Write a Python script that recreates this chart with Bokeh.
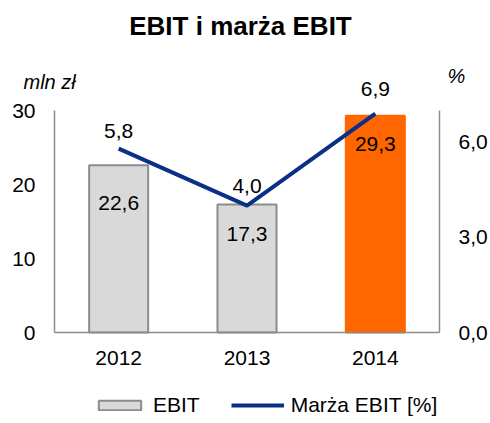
from bokeh.plotting import figure
from bokeh.models import (ColumnDataSource, LinearAxis, Range1d, FactorRange, LabelSet, Label,
                          Legend, LegendItem, FixedTicker)
from bokeh.core.properties import value
from bokeh.embed import file_html
from bokeh.resources import INLINE

# ---- data ----
years = ["2012", "2013", "2014"]
ebit = [22.6, 17.3, 29.3]
margin = [5.8, 4.0, 6.9]
ebit_labels = ["22,6", "17,3", "29,3"]
margin_labels = ["5,8", "4,0", "6,9"]
left_ticks = [0, 10, 20, 30]
right_ticks = [0, 3, 6]
right_tick_labels = ["0,0", "3,0", "6,0"]
left_axis_max = 30
right_axis_max = 7
title_text = "EBIT i marża EBIT"
left_unit = "mln zł"
right_unit = "%"
legend_labels = ["EBIT", "Marża EBIT [%]"]

# ---- style / layout (pixels) ----
FONT = "Liberation Sans"
bar_colors = ["#d9d9d9", "#d9d9d9", "#ff6600"]
bar_lines = ["#8c8c8c", "#8c8c8c", "#ff6600"]
bar_label_dy = [-38, -30, -28]
line_label_dy = [18, 20, 25]
AXIS_COLOR = "#8c8c8c"
LINE_COLOR = "#0a2f87"
W, H = 490, 423
FRAME_LEFT = 3
AX_L, AX_R, AX_T, AX_B = 54, 439, 110, 332   # axis box in page pixels

unit_px = (AX_R - AX_L) / len(years)
pad = (AX_L - FRAME_LEFT) / unit_px
k_left = (AX_B - AX_T) / left_axis_max
k_right = (AX_B - AX_T) / right_axis_max

bar_src = ColumnDataSource(dict(x=years, top=ebit, lab=ebit_labels, color=bar_colors,
                                lc=bar_lines, dy=bar_label_dy))
line_src = ColumnDataSource(dict(x=years, y=margin, lab=margin_labels, dy=line_label_dy))

p = figure(width=W, height=H,
           x_range=FactorRange(*years, range_padding=pad, range_padding_units="absolute"),
           y_range=Range1d(-(H - AX_B) / k_left, AX_B / k_left),
           output_backend="svg", toolbar_location=None,
           min_border_left=FRAME_LEFT, min_border_right=0, min_border_top=0, min_border_bottom=0)
p.extra_y_ranges = {"pct": Range1d(-(H - AX_B) / k_right, AX_B / k_right)}
p.title.text = ""
p.title.visible = False

p.outline_line_color = None
p.xgrid.grid_line_color = None
p.ygrid.grid_line_color = None

bars = p.vbar(x="x", top="top", width=0.46, source=bar_src, fill_color="color",
              line_color="lc", line_width=2)
line = p.line(x="x", y="y", source=line_src, y_range_name="pct", line_color=LINE_COLOR,
              line_width=4)

right = LinearAxis(y_range_name="pct")
p.add_layout(right, "right")

for ax in [p.xaxis[0], p.yaxis[0], right]:
    ax.axis_line_color = AXIS_COLOR
    ax.axis_line_width = 1.5
    ax.major_tick_line_color = None
    ax.minor_tick_line_color = None
    ax.major_label_text_font = FONT
    ax.major_label_text_font_size = "21px"
    ax.major_label_text_color = "#000000"

p.xaxis[0].fixed_location = 0
p.xaxis[0].bounds = (0, len(years))
p.xaxis[0].major_label_standoff = 12

p.yaxis[0].fixed_location = 0
p.yaxis[0].ticker = FixedTicker(ticks=left_ticks)
p.yaxis[0].bounds = (0, left_axis_max)
p.yaxis[0].major_label_standoff = 13

right.fixed_location = len(years)
right.ticker = FixedTicker(ticks=right_ticks)
right.bounds = (0, right_axis_max)
right.major_label_overrides = {t: s for t, s in zip(right_ticks, right_tick_labels)}
right.major_label_standoff = 13

bl = LabelSet(x="x", y="top", text="lab", source=bar_src, y_offset="dy",
              text_align="center", text_baseline="middle", text_font=value(FONT),
              text_font_size=value("21px"), text_color="#000000")
ll = LabelSet(x="x", y="y", text="lab", source=line_src, y_range_name="pct", y_offset="dy",
              text_align="center", text_baseline="middle", text_font=value(FONT),
              text_font_size=value("21px"), text_color="#000000")
p.add_layout(bl)
p.add_layout(ll)

# screen units: measured from the frame's bottom-left corner
p.add_layout(Label(x=240 - FRAME_LEFT, y=H - 25, x_units="screen", y_units="screen",
                   text=title_text, text_align="center", text_baseline="middle",
                   text_font=FONT, text_font_size="26px", text_font_style="bold",
                   text_color="#000000"))
p.add_layout(Label(x=23 - FRAME_LEFT, y=H - 81, x_units="screen", y_units="screen",
                   text=left_unit, text_align="left", text_baseline="middle",
                   text_font=FONT, text_font_size="20px", text_font_style="italic",
                   text_color="#000000"))
p.add_layout(Label(x=456 - FRAME_LEFT, y=H - 75, x_units="screen", y_units="screen",
                   text=right_unit, text_align="center", text_baseline="middle",
                   text_font=FONT, text_font_size="20px", text_font_style="italic",
                   text_color="#000000"))

legend = Legend(items=[LegendItem(label=legend_labels[0], renderers=[bars], index=0),
                       LegendItem(label=legend_labels[1], renderers=[line])],
                orientation="horizontal", location=(93 - FRAME_LEFT, 6),
                glyph_width=53, glyph_height=12,
                label_text_font=FONT, label_text_font_size="21px", label_text_color="#000000",
                border_line_color=None, background_fill_alpha=0, padding=0, margin=0,
                spacing=31, label_standoff=7)
p.add_layout(legend)

open("out.html", "w").write(file_html(p, INLINE))
